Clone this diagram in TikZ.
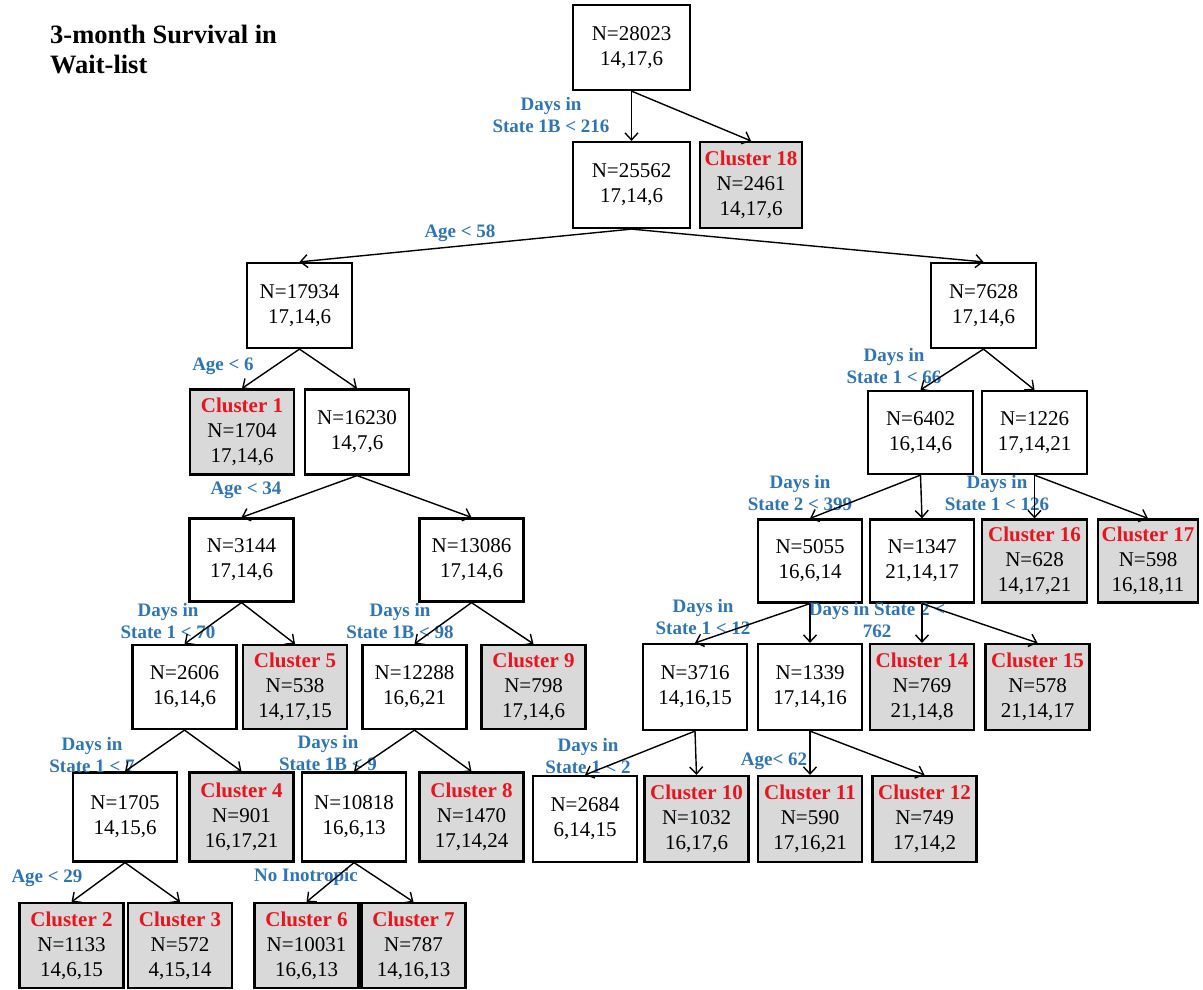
\documentclass[tikz,border=0pt]{standalone}
\usepackage{fontspec}
\setmainfont{Liberation Serif}
\usetikzlibrary{arrows.meta}
\definecolor{boxgray}{RGB}{217,217,217}
\definecolor{lblue}{RGB}{46,117,182}
\definecolor{cred}{RGB}{232,20,30}
\newcommand\clname[1]{\textcolor{cred}{\bfseries #1}}
\tikzset{
  box/.style={draw, line width=2.2pt, minimum width=104pt, minimum height=83pt, inner sep=0pt, align=center, font=\fontsize{21}{25}\selectfont},
  leaf/.style={box, fill=boxgray},
  lbl/.style={text=lblue, font=\fontsize{19}{22}\selectfont\bfseries, align=center, inner sep=0pt},
  edge/.style={line width=1.4pt, -{Straight Barb[length=7pt,width=13pt,line width=1.4pt]}},
}
\begin{document}
\begin{tikzpicture}[x=1pt,y=-1pt]
\useasboundingbox (0,0) rectangle (1203,989);
% title
\node[anchor=north west, align=left, inner sep=0pt, font=\fontsize{26.5}{30}\selectfont\bfseries] (title) at (50,25) {3-month Survival in\\Wait-list};
% row 0-1
\node[box, minimum width=117pt, minimum height=85pt] (root) at (631.5,47.5) {N=28023\\14,17,6};
\node[box, minimum width=117pt, minimum height=86pt] (n25562) at (631.5,185) {N=25562\\17,14,6};
\node[leaf, minimum width=102pt, minimum height=86pt] (c18) at (751,185) {\clname{Cluster 18}\\N=2461\\14,17,6};
% row 2
\node[box, minimum width=105pt, minimum height=85pt] (n17934) at (299.5,305.5) {N=17934\\17,14,6};
\node[box, minimum width=105pt, minimum height=85pt] (n7628) at (983.5,305.5) {N=7628\\17,14,6};
% row 3
\node[leaf, minimum height=85pt] (c1) at (242,432) {\clname{Cluster 1}\\N=1704\\17,14,6};
\node[box, minimum height=85pt] (n16230) at (357,432) {N=16230\\14,7,6};
\node[box, minimum width=105pt, minimum height=83pt] (n6402) at (920.5,432.5) {N=6402\\16,14,6};
\node[box, minimum width=105pt, minimum height=83pt] (n1226) at (1034.5,432.5) {N=1226\\17,14,21};
% row 4
\node[box] (n3144) at (241.5,560) {N=3144\\17,14,6};
\node[box] (n13086) at (471.5,560) {N=13086\\17,14,6};
\node[box] (n5055) at (810,561) {N=5055\\16,6,14};
\node[box] (n1347) at (922,561) {N=1347\\21,14,17};
\node[leaf, minimum width=105pt] (c16) at (1034.5,561) {\clname{Cluster 16}\\N=628\\14,17,21};
\node[leaf, minimum width=100pt] (c17) at (1148,561) {\clname{Cluster 17}\\N=598\\16,18,11};
% row 5
\node[box, minimum height=84pt] (n2606) at (184.5,687) {N=2606\\16,14,6};
\node[leaf, minimum height=84pt] (c5) at (295,687) {\clname{Cluster 5}\\N=538\\14,17,15};
\node[box, minimum height=84pt] (n12288) at (414.5,687) {N=12288\\16,6,21};
\node[leaf, minimum height=84pt] (c9) at (533.5,687) {\clname{Cluster 9}\\N=798\\17,14,6};
\node[box, minimum height=86pt] (n3716) at (695,687) {N=3716\\14,16,15};
\node[box, minimum height=86pt] (n1339) at (810,687) {N=1339\\17,14,16};
\node[leaf, minimum height=86pt] (c14) at (922,687) {\clname{Cluster 14}\\N=769\\21,14,8};
\node[leaf, minimum height=86pt] (c15) at (1037.5,687) {\clname{Cluster 15}\\N=578\\21,14,17};
% row 6
\node[box, minimum height=89pt] (n1705) at (125,817) {N=1705\\14,15,6};
\node[leaf, minimum height=89pt] (c4) at (241.5,817) {\clname{Cluster 4}\\N=901\\16,17,21};
\node[box, minimum height=89pt] (n10818) at (354,817) {N=10818\\16,6,13};
\node[leaf, minimum height=89pt] (c8) at (471.5,817) {\clname{Cluster 8}\\N=1470\\17,14,24};
\node[box, minimum height=86pt] (n2684) at (585,819) {N=2684\\6,14,15};
\node[leaf, minimum height=86pt] (c10) at (696.5,819) {\clname{Cluster 10}\\N=1032\\16,17,6};
\node[leaf, minimum height=86pt] (c11) at (810,819) {\clname{Cluster 11}\\N=590\\17,16,21};
\node[leaf, minimum height=86pt] (c12) at (924.5,819) {\clname{Cluster 12}\\N=749\\17,14,2};
% row 7
\node[leaf, minimum height=85pt] (c2) at (71.5,945.5) {\clname{Cluster 2}\\N=1133\\14,6,15};
\node[leaf, minimum height=85pt] (c3) at (180,945.5) {\clname{Cluster 3}\\N=572\\4,15,14};
\node[leaf, minimum height=85pt] (c6) at (306.5,945.5) {\clname{Cluster 6}\\N=10031\\16,6,13};
\node[leaf, minimum height=85pt] (c7) at (413.5,945.5) {\clname{Cluster 7}\\N=787\\14,16,13};
% labels
\node[lbl] (l1) at (551,115) {Days in\\State 1B < 216};
\node[lbl] (l2) at (460,233) {Age < 58};
\node[lbl] (l3) at (223,366) {Age < 6};
\node[lbl] (l4) at (894,366) {Days in\\State 1 < 66};
\node[lbl] (l5) at (246,490) {Age < 34};
\node[lbl] (l6) at (800,493) {Days in\\State 2 < 399};
\node[lbl] (l7) at (997,493) {Days in\\State 1 < 126};
\node[lbl] (l8) at (168,621) {Days in\\State 1 < 70};
\node[lbl] (l9) at (400,621) {Days in\\State 1B < 98};
\node[lbl] (l10) at (703,617) {Days in\\State 1 < 12};
\node[lbl] (l11) at (877,620) {Days in State 2 <\\762};
\node[lbl] (l12) at (92,755) {Days in\\State 1 < 7};
\node[lbl] (l13) at (328,753) {Days in\\State 1B < 9};
\node[lbl] (l17) at (588,756) {Days in\\State 1 < 2};
\node[lbl] (l14) at (47,878) {Age < 29};
\node[lbl] (l15) at (306,877) {No Inotropic};
\node[lbl] (l16) at (774,761) {Age< 62};
% edges
\foreach \p/\c in {root/n25562, root/c18, n25562/n17934, n25562/n7628,
  n17934/c1, n17934/n16230, n16230/n3144, n16230/n13086,
  n3144/n2606, n3144/c5, n13086/n12288, n13086/c9,
  n2606/n1705, n2606/c4, n12288/n10818, n12288/c8,
  n1705/c2, n1705/c3, n10818/c6, n10818/c7,
  n7628/n6402, n7628/n1226, n6402/n5055, n6402/n1347,
  n1226/c16, n1226/c17, n5055/n3716, n5055/n1339,
  n1347/c14, n1347/c15, n3716/n2684, n3716/c10,
  n1339/c11, n1339/c12}
  \draw[edge] (\p.south) -- (\c.north);
\end{tikzpicture}
\end{document}
